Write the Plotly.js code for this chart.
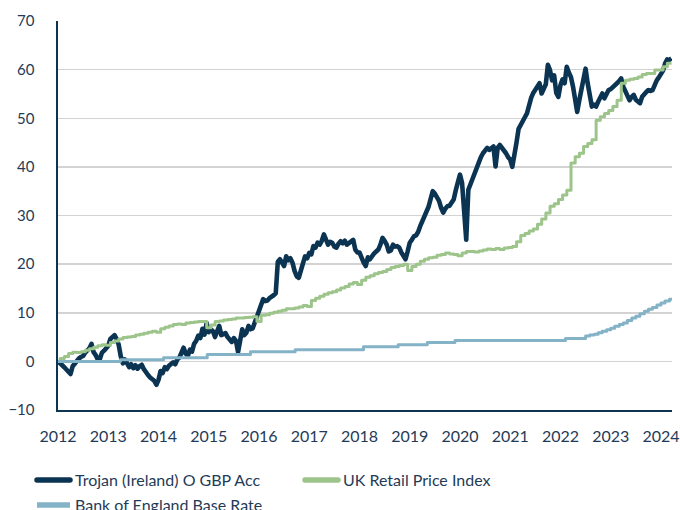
<!DOCTYPE html>
<html>
<head>
<meta charset="utf-8">
<script src="https://cdn.plot.ly/plotly-3.0.1.min.js"></script>
<style>
  html, body { margin: 0; padding: 0; background: #ffffff; }
  #chart { width: 680px; height: 510px; }
  .legend path.js-line { stroke-linecap: round; }
  .scatterlayer path.js-line { stroke-linejoin: round; }
</style>
</head>
<body>
<div id="chart"></div>
<script>
// ---------- DATA ----------
const seriesNames = ["Trojan (Ireland) O GBP Acc", "UK Retail Price Index", "Bank of England Base Rate"];
const yearTicks = [2012, 2013, 2014, 2015, 2016, 2017, 2018, 2019, 2020, 2021, 2022, 2023, 2024];
const yearLabels = ["2012", "2013", "2014", "2015", "2016", "2017", "2018", "2019", "2020", "2021", "2022", "2023", "2024"];

// Trojan cumulative return (%), semi-monthly readings from Jan 2012
const trojanStart = 2012.0;
const trojanPerYear = 24;
const trojanValues = [
  // 2012
  0, -0.3, -0.8, -1.2, -1.6, -2.2, -2.6, -1.0, -0.4, 0.3, 0.6, 0.9,
  1.1, 1.8, 2.3, 2.7, 3.6, 1.9, 1.3, 0.4, 0.5, 1.8, 2.2, 2.6,
  // 2013
  3.2, 4.6, 5.0, 5.4, 4.6, 3.4, 1.0, -0.4, 0.4, -0.3, -1.2, -0.6,
  -1.4, -0.8, -1.5, -1.0, -0.7, -1.6, -2.4, -2.8, -3.3, -3.6, -4.0, -4.8,
  // 2014
  -3.8, -2.0, -2.4, -1.2, -1.6, -0.9, -0.5, -0.2, -0.6, 0.4, 0.8, 1.9,
  2.8, 1.6, 1.1, 2.4, 2.0, 3.6, 4.2, 5.3, 4.8, 6.7, 5.5, 7.9,
  // 2015
  6.0, 6.6, 6.2, 5.0, 6.5, 7.3, 5.4, 5.6, 5.8, 5.0, 4.6, 4.0,
  4.8, 4.2, 1.9, 4.0, 6.6, 5.4, 5.9, 7.3, 6.6, 6.8, 8.0, 9.8,
  // 2016
  11.0, 12.1, 12.8, 12.4, 12.5, 13.0, 13.2, 13.6, 14.0, 20.5, 21.0, 20.2,
  19.6, 21.6, 20.8, 21.2, 20.3, 18.6, 17.5, 17.2, 18.9, 19.8, 21.6, 21.2,
  // 2017
  22.3, 22.0, 23.7, 23.4, 24.4, 24.0, 24.8, 26.1, 25.2, 24.0, 24.6, 24.4,
  23.6, 23.4, 24.2, 24.7, 24.3, 24.8, 24.0, 24.4, 24.5, 25.0, 23.0, 22.4,
  // 2018
  22.4, 21.2, 20.3, 19.6, 21.4, 21.0, 21.8, 22.2, 22.6, 23.0, 24.0, 25.4,
  24.8, 24.0, 22.6, 22.8, 24.0, 23.6, 23.7, 23.4, 22.4, 21.4, 21.0, 22.6,
  // 2019
  24.4, 25.0, 25.7, 25.9, 26.6, 27.8, 28.8, 29.9, 31.0, 31.8, 33.4, 35.0,
  34.5, 33.9, 33.0, 31.6, 30.6, 31.4, 31.9, 32.0, 32.6, 33.3, 35.2, 36.5,
  // 2020
  38.4, 36.7, 32.0, 25.0, 35.3, 36.5, 37.4, 38.8, 39.8, 41.5, 42.0, 42.8,
  43.6, 43.9, 43.5, 44.0, 44.2, 40.1, 43.9, 44.5, 44.0, 43.5, 42.8, 42.0,
  // 2021
  41.5, 40.0, 42.0, 45.0, 47.8, 48.8, 49.4, 50.2, 51.0, 52.8, 54.2, 55.2,
  55.8, 56.6, 57.2, 55.1, 56.3, 57.0, 61.0, 59.9, 57.8, 58.8, 55.2, 54.4,
  // 2022
  56.8, 58.0, 57.2, 60.6, 59.4, 58.5, 56.5, 54.1, 51.3, 53.7, 55.8, 57.4,
  60.2, 57.2, 55.0, 52.4, 52.8, 52.4, 53.4, 54.4, 55.1, 54.1, 55.0, 55.8,
  // 2023
  56.0, 56.5, 57.0, 57.2, 57.6, 58.2, 56.5, 55.6, 54.8, 53.7, 54.4, 54.8,
  53.8, 53.4, 53.1, 54.4, 55.1, 55.4, 55.8, 55.6, 55.8, 57.2, 57.8, 58.4,
  // 2024
  59.0, 59.8, 61.3, 62.1, 62.0, 62.3
];

// UK RPI cumulative change (%), monthly steps
const rpiStart = 2011.96;
const rpiPerYear = 12;
const rpiValues = [
  0, 0.6, 1.0, 1.6, 1.9, 1.8, 2.0, 2.3, 2.6, 2.9, 3.2, 3.4,
  3.3, 3.9, 4.2, 4.6, 4.9, 5.0, 5.1, 5.4, 5.6, 5.8, 6.0, 6.2,
  6.0, 6.7, 7.0, 7.3, 7.6, 7.7, 7.6, 7.9, 8.0, 8.1, 8.2, 8.2,
  6.9, 7.5, 8.2, 8.3, 8.5, 8.6, 8.7, 8.9, 8.9, 9.0, 9.1, 9.2,
  8.2, 9.5, 9.6, 9.9, 10.1, 10.3, 10.5, 10.8, 10.8, 11.0, 11.2, 11.5,
  11.3, 12.5, 13.0, 13.4, 13.8, 14.1, 14.3, 14.7, 15.1, 15.4, 15.9, 16.2,
  15.8, 16.7, 17.3, 17.6, 18.0, 18.3, 18.5, 18.9, 19.3, 19.5, 19.7, 20.0,
  18.7, 19.5, 20.0, 20.6, 21.0, 21.3, 21.4, 21.8, 22.0, 22.3, 22.1, 22.0,
  21.7, 22.3, 22.6, 22.6, 22.5, 22.7, 22.9, 23.1, 23.0, 23.2, 23.0, 23.3,
  23.4, 23.6, 24.6, 25.9, 26.3, 26.8, 27.2, 28.2, 29.3, 30.5, 31.9, 32.4,
  33.3, 34.2, 35.2, 40.8, 42.1, 42.8, 44.2, 44.8, 45.6, 49.6, 50.3, 51.0,
  51.6, 52.4, 53.7, 57.2, 57.8, 58.0, 58.2, 58.5, 59.0, 59.2, 59.2, 59.9,
  59.9, 60.6, 61.3, 61.3
];

// Bank of England base rate cumulative (%), change points
const boeDates = [2012.0, 2013.24, 2014.1, 2014.97, 2015.83, 2016.72, 2018.08, 2018.77, 2019.35, 2019.9,
  2022.1, 2022.5, 2022.58, 2022.67, 2022.75, 2022.83, 2022.92, 2023.0, 2023.08, 2023.17, 2023.25,
  2023.33, 2023.42, 2023.5, 2023.58, 2023.67, 2023.75, 2023.83, 2023.92, 2024.0, 2024.08, 2024.17, 2024.25];
const boeValues = [0, 0.35, 0.75, 1.4, 2.0, 2.4, 3.0, 3.4, 3.9, 4.3,
  4.7, 5.2, 5.4, 5.6, 5.9, 6.2, 6.5, 6.8, 7.2, 7.6, 7.9,
  8.4, 8.9, 9.3, 9.8, 10.3, 10.7, 11.1, 11.6, 12.0, 12.4, 12.8, 13.0];

// ---------- BUILD ----------
const trojanX = trojanValues.map((_, i) => trojanStart + i / trojanPerYear);
const rpiX = rpiValues.map((_, i) => rpiStart + i / rpiPerYear);

const colors = { trojan: "#0b3453", rpi: "#9dc58b", boe: "#84b3c8" };
const textColor = "#1f3b57";
const fontFamily = "Lato, 'Open Sans', sans-serif";

const traces = [
  { x: trojanX, y: trojanValues, type: "scatter", mode: "lines", name: seriesNames[0],
    line: { color: colors.trojan, width: 4.6 }, showlegend: false, hoverinfo: "skip" },
  { x: rpiX, y: rpiValues, type: "scatter", mode: "lines", name: seriesNames[1],
    line: { color: colors.rpi, width: 3, shape: "hv" }, showlegend: false, hoverinfo: "skip" },
  { x: boeDates, y: boeValues, type: "scatter", mode: "lines", name: seriesNames[2],
    line: { color: colors.boe, width: 3, shape: "hv" }, showlegend: false, hoverinfo: "skip" },
  // legend entries
  { x: [null], y: [null], type: "scatter", mode: "lines", name: seriesNames[0],
    line: { color: colors.trojan, width: 5.5 }, legend: "legend" },
  { x: [null], y: [null], type: "scatter", mode: "lines", name: seriesNames[1],
    line: { color: colors.rpi, width: 5.5 }, legend: "legend" },
  { x: [null], y: [null], type: "scatter", mode: "lines", name: seriesNames[2],
    line: { color: colors.boe, width: 5.5 }, legend: "legend2" }
];

const layout = {
  width: 680, height: 510,
  margin: { l: 58, r: 8, t: 21, b: 100 },
  paper_bgcolor: "#ffffff", plot_bgcolor: "#ffffff",
  font: { family: fontFamily, color: textColor, size: 16 },
  showlegend: true,
  xaxis: {
    range: [2012, 2024.22],
    tickmode: "array", tickvals: yearTicks, ticktext: yearLabels,
    showgrid: false, zeroline: false,
    showline: true, linecolor: "#0d3552", linewidth: 2,
    ticks: "", ticklabelstandoff: 11,
    tickfont: { family: fontFamily, size: 16, color: textColor },
    fixedrange: true
  },
  yaxis: {
    range: [-10, 70], dtick: 10, tick0: 0,
    showgrid: true, gridcolor: "#d3d3d3", gridwidth: 1.5,
    zeroline: false,
    showline: true, linecolor: "#0d3552", linewidth: 2.5,
    ticks: "", ticklabelstandoff: 18,
    tickfont: { family: fontFamily, size: 15, color: textColor },
    fixedrange: true
  },
  legend: {
    orientation: "h", xref: "container", yref: "container",
    x: 32 / 680, xanchor: "left", y: 1 - 463 / 510, yanchor: "top",
    entrywidth: 220, itemwidth: 33,
    font: { family: fontFamily, size: 16, color: textColor },
    bgcolor: "rgba(0,0,0,0)"
  },
  legend2: {
    orientation: "h", xref: "container", yref: "container",
    x: 32 / 680, xanchor: "left", y: 1 - 488 / 510, yanchor: "top",
    itemwidth: 33,
    font: { family: fontFamily, size: 16, color: textColor },
    bgcolor: "rgba(0,0,0,0)"
  }
};

Plotly.newPlot("chart", traces, layout, { displayModeBar: false, staticPlot: true });
</script>
</body>
</html>
